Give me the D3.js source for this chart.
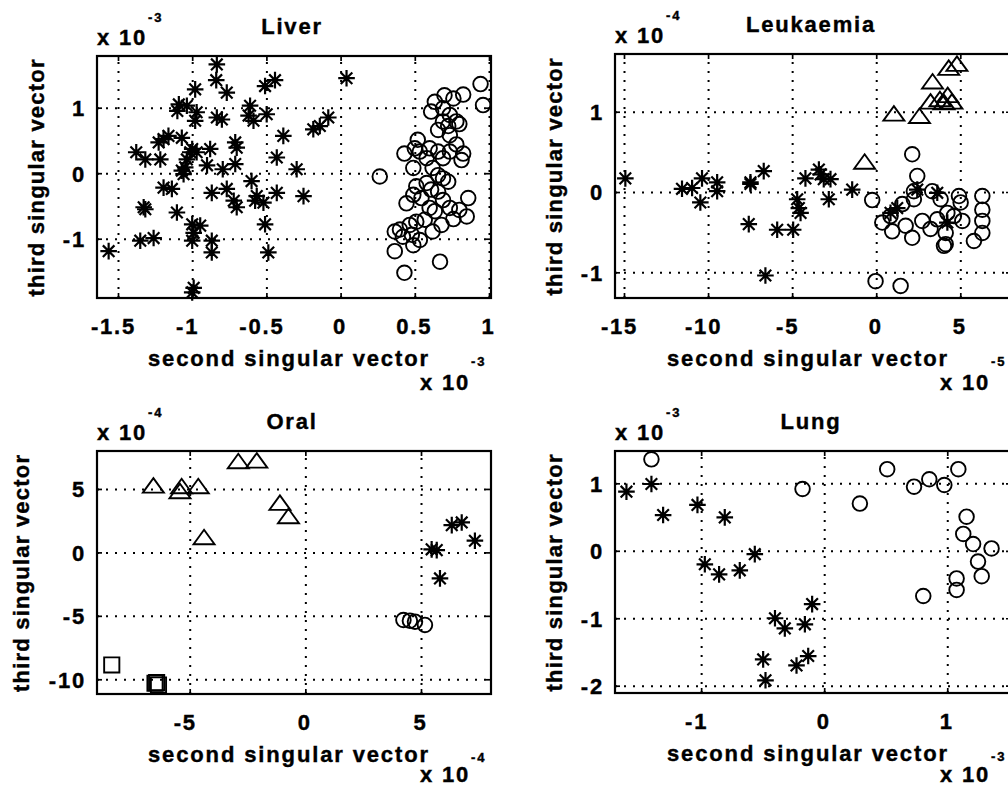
<!DOCTYPE html>
<html><head><meta charset="utf-8">
<script src="https://cdn.jsdelivr.net/npm/d3@7"></script>
<style>
html,body{margin:0;padding:0;overflow:hidden;background:#fff}
text{font-family:"Liberation Sans",Arial,Helvetica,sans-serif;font-weight:bold;fill:#000;stroke:#000;stroke-width:0.4px}
</style></head>
<body><svg id="chart" width="1008" height="789"></svg>
<script>
// ---------------- DATA (values in the units shown on the axes) ----------------
const panelTitles = ["Liver", "Leukaemia", "Oral", "Lung"];
const xAxisLabel = "second singular vector";
const yAxisLabel = "third singular vector";

const liverXTicks = [-1.5, -1, -0.5, 0, 0.5, 1];
const liverYTicks = [-1, 0, 1];
const leukXTicks = [-15, -10, -5, 0, 5, 10];
const leukYTicks = [-1, 0, 1];
const oralXTicks = [-5, 0, 5];
const oralYTicks = [-10, -5, 0, 5];
const lungXTicks = [-1, 0, 1];
const lungYTicks = [-2, -1, 0, 1];

// exponents [y-axis, x-axis]
const liverExp = ["-3", "-3"];
const leukExp = ["-4", "-5"];
const oralExp = ["-4", "-4"];
const lungExp = ["-3", "-3"];

const liverStars = [[-0.834,1.66],[-0.838,1.42],[-0.98,1.28],[-0.767,1.23],[-0.509,1.33],[-0.442,1.42],[0.04,1.45],
[-1.09,1.05],[-1.10,0.95],[-1.036,1.03],[-0.97,0.93],[-0.98,0.80],[-0.834,0.85],[-0.80,0.82],
[-0.61,1.03],[-0.62,0.88],[-0.587,0.80],[-0.498,0.90],[-0.083,0.85],[-0.14,0.72],[-0.184,0.67],[-0.386,0.57],
[-1.16,0.57],[-1.193,0.52],[-1.226,0.47],[-1.07,0.54],[-1.377,0.32],[-1.316,0.21],[-1.215,0.21],
[-1.013,0.32],[-0.97,0.32],[-1.036,0.21],[-0.879,0.37],[-0.71,0.47],[-0.70,0.39],[-0.71,0.14],
[-0.90,0.12],[-0.794,0.06],[-1.07,0.04],[-1.047,0.09],[-0.43,0.24],[-0.296,0.06],[-1.058,-0.015],[-1.0,0.37],
[-1.193,-0.22],[-1.137,-0.24],[-1.327,-0.52],[-1.316,-0.55],[-1.103,-0.60],[-0.868,-0.30],[-0.767,-0.24],
[-0.72,-0.42],[-0.70,-0.52],[-0.60,-0.12],[-0.565,-0.35],[-0.576,-0.42],[-0.52,-0.45],[-0.43,-0.30],[-0.25,-0.35],
[-0.509,-0.78],[-1.0,-0.78],[-0.99,-0.91],[-0.946,-0.80],[-1.0,-1.03],[-1.35,-1.03],[-1.26,-0.99],
[-0.868,-1.03],[-0.868,-1.21],[-1.563,-1.19],[-0.487,-1.21],[-0.99,-1.75],[-1.0,-1.82]];

const liverCircles = [[0.943,1.36],[0.96,1.04],[0.826,1.20],[0.70,1.19],[0.635,1.09],[0.61,0.94],[0.69,0.99],
[0.736,0.89],[0.78,0.79],[0.69,0.79],[0.725,0.72],[0.80,0.75],[0.657,0.66],[0.736,0.58],[0.52,0.51],
[0.50,0.38],[0.43,0.30],[0.534,0.33],[0.60,0.38],[0.657,0.33],[0.736,0.33],[0.826,0.30],[0.815,0.20],
[0.58,0.23],[0.69,0.23],[0.264,-0.05],[0.62,0.08],[0.657,-0.03],[0.69,-0.08],[0.725,-0.13],[0.58,-0.15],
[0.51,-0.20],[0.61,-0.25],[0.657,-0.28],[0.49,-0.33],[0.545,-0.38],[0.444,-0.46],[0.86,-0.38],[0.69,-0.41],
[0.736,-0.53],[0.80,-0.56],[0.85,-0.66],[0.635,-0.58],[0.567,-0.71],[0.51,-0.74],[0.466,-0.79],[0.40,-0.86],
[0.365,-0.89],[0.42,-0.97],[0.48,-0.94],[0.534,-1.02],[0.62,-0.89],[0.68,-0.79],[0.76,-0.70],[0.365,-1.19],
[0.67,-1.35],[0.43,-1.52],[0.49,-1.10],[0.60,-0.53],[0.49,0.08],[0.78,0.44],[0.76,1.14]];

const leukStars = [[-14.92,0.17],[-11.55,0.04],[-10.95,0.05],[-10.36,0.17],[-10.46,-0.13],[-9.46,0.12],[-9.46,0.01],
[-7.48,0.12],[-7.48,0.10],[-6.69,0.26],[-7.58,-0.40],[-5.89,-0.47],[-4.94,-0.47],[-6.59,-1.04],
[-4.70,-0.09],[-4.60,-0.20],[-4.50,-0.26],[-4.21,0.17],[-3.41,0.28],[-3.31,0.22],[-3.12,0.16],
[-2.72,0.16],[-2.82,-0.09],[-1.43,0.03],[1.25,-0.20],[0.85,-0.26],[3.63,-0.01],[4.23,-0.38],[2.44,0.03]];

const leukTriangles = [[-0.69,0.37],[1.05,0.97],[2.57,0.94],[3.35,1.37],[3.23,1.12],[4.31,1.54],[4.80,1.59],
[4.25,1.20],[4.50,1.12],[4.03,1.11],[3.79,1.15]];

const leukCircles = [[-0.24,-0.10],[2.14,0.47],[2.44,0.20],[2.24,0.01],[1.55,-0.15],[0.85,-0.30],[0.36,-0.38],
[0.95,-0.49],[1.75,-0.42],[2.14,-0.57],[2.74,-0.36],[3.33,0.01],[3.83,-0.09],[4.23,-0.26],[4.92,-0.05],
[5.02,-0.13],[5.12,-0.36],[4.13,-0.51],[4.03,-0.67],[4.13,-0.65],[6.31,-0.05],[6.31,-0.22],[6.31,-0.36],
[6.31,-0.51],[5.81,-0.61],[-0.04,-1.11],[1.45,-1.17],[3.23,-0.46],[3.63,-0.34],[4.62,-0.30],[2.24,-0.09]];

const oralTriangles = [[-6.57,5.22],[-5.35,5.17],[-5.42,4.78],[-4.63,5.17],[-2.90,7.14],[-2.10,7.19],
[-1.10,3.86],[-0.73,2.81],[-4.38,1.15]];
const oralStars = [[5.46,0.24],[5.68,0.18],[6.33,2.15],[6.76,2.36],[7.33,0.92],[5.82,-2.05]];
const oralCircles = [[4.24,-5.33],[4.52,-5.38],[4.74,-5.46],[5.17,-5.72]];
const oralSquares = [[-8.37,-8.87],[-6.50,-10.31],[-6.35,-10.45],[-6.43,-10.26]];

const lungStars = [[-1.607,0.876],[-1.404,0.99],[-1.309,0.53],[-1.03,0.68],[-0.808,0.495],[-0.97,-0.20],
[-0.854,-0.35],[-0.686,-0.29],[-0.564,-0.05],[-0.098,-0.79],[-0.40,-1.0],[-0.32,-1.15],[-0.157,-1.09],
[-0.13,-1.56],[-0.225,-1.70],[-0.496,-1.61],[-0.477,-1.92]];
const lungCircles = [[-1.404,1.356],[-0.176,0.916],[0.29,0.70],[0.512,1.21],[0.73,0.95],[0.854,1.06],
[0.976,0.975],[1.09,1.21],[1.157,0.505],[1.13,0.25],[1.21,0.10],[1.36,0.035],[1.25,-0.16],[1.28,-0.376],
[1.076,-0.41],[1.076,-0.58],[0.805,-0.67]];

// ---------------- LAYOUT ----------------
const panels = [
  {title: panelTitles[0], box: {l:97, r:491, t:56, b:298}, xDom: [-1.6415, 1.0135], yDom: [-1.905, 1.789],
   xTicks: liverXTicks, yTicks: liverYTicks, exp: liverExp, ylabOff: 53, xExpOff: 92,
   series: [{d: liverStars, m: "star"}, {d: liverCircles, m: "circle"}]},
  {title: panelTitles[1], box: {l:615, r:1011, t:54, b:298}, xDom: [-15.535, 8.015], yDom: [-1.32, 1.719],
   xTicks: leukXTicks, yTicks: leukYTicks, exp: leukExp, ylabOff: 53, xExpOff: 92,
   series: [{d: leukStars, m: "star"}, {d: leukCircles, m: "circle"}, {d: leukTriangles, m: "triangle"}]},
  {title: panelTitles[2], box: {l:97, r:491, t:451, b:694}, xDom: [-9.008, 8.026], yDom: [-11.16, 7.99],
   xTicks: oralXTicks, yTicks: oralYTicks, exp: oralExp, ylabOff: 68, xExpOff: 88,
   series: [{d: oralTriangles, m: "triangle"}, {d: oralStars, m: "star"}, {d: oralCircles, m: "circle"}, {d: oralSquares, m: "square"}]},
  {title: panelTitles[3], box: {l:615, r:1011, t:451, b:693}, xDom: [-1.70, 1.518], yDom: [-2.108, 1.479],
   xTicks: lungXTicks, yTicks: lungYTicks, exp: lungExp, ylabOff: 53, xExpOff: 89,
   series: [{d: lungStars, m: "star"}, {d: lungCircles, m: "circle"}]}
];

const markerPath = {
  star: "M-8.3,0H8.3M0,-8.3V8.3M-5.8,-5.8L5.8,5.8M-5.8,5.8L5.8,-5.8",
  triangle: "M0,-8L10.5,6.5L-10.5,6.5Z",
  square: "M-7.6,-7.6H7.6V7.6H-7.6Z"
};

const FS = 22, LS = "1.8px";
const svg = d3.select("#chart");
const fmt = d => String(d);

panels.forEach(p => {
  const {l, r, t, b} = p.box;
  const x = d3.scaleLinear().domain(p.xDom).range([l, r]);
  const y = d3.scaleLinear().domain(p.yDom).range([b, t]);
  const g = svg.append("g");
  const xIn = p.xTicks.filter(v => v >= p.xDom[0] && v <= p.xDom[1]);

  // grid lines + tick labels via axes
  const gx = g.append("g").attr("transform", `translate(0,${b})`)
    .call(d3.axisBottom(x).tickValues(xIn).tickFormat(fmt).tickSize(-(b - t)));
  gx.select(".domain").remove();
  gx.selectAll(".tick line").attr("stroke", "#000").attr("stroke-width", 2).attr("stroke-dasharray", "2,7");
  gx.selectAll(".tick text").attr("y", 36).attr("dy", 0).attr("dx", d => d < 0 ? -5 : -1)
    .attr("font-size", FS).style("letter-spacing", LS).attr("font-family", null).attr("fill", null);

  const gy = g.append("g").attr("transform", `translate(${l},0)`)
    .call(d3.axisLeft(y).tickValues(p.yTicks).tickFormat(fmt).tickSize(-(r - l)));
  gy.select(".domain").remove();
  gy.selectAll(".tick line").attr("stroke", "#000").attr("stroke-width", 2).attr("stroke-dasharray", "2,7");
  gy.selectAll(".tick text").attr("x", -11).attr("dy", "0.36em")
    .attr("font-size", FS).style("letter-spacing", LS).attr("font-family", null).attr("fill", null);

  // inward tick marks on all four sides
  const tk = 5;
  [[d3.axisBottom(x), b], [d3.axisTop(x), t]].forEach(([ax, yy]) => {
    const a = g.append("g").attr("transform", `translate(0,${yy})`)
      .call(ax.tickValues(xIn).tickSize(-tk).tickFormat(""));
    a.select(".domain").remove();
    a.selectAll(".tick line").attr("stroke", "#000").attr("stroke-width", 1.7);
  });
  [[d3.axisLeft(y), l], [d3.axisRight(y), r]].forEach(([ax, xx]) => {
    const a = g.append("g").attr("transform", `translate(${xx},0)`)
      .call(ax.tickValues(p.yTicks).tickSize(-tk).tickFormat(""));
    a.select(".domain").remove();
    a.selectAll(".tick line").attr("stroke", "#000").attr("stroke-width", 1.7);
  });

  // box
  g.append("rect").attr("x", l).attr("y", t).attr("width", r - l).attr("height", b - t)
    .attr("fill", "none").attr("stroke", "#000").attr("stroke-width", 2.2);

  // markers
  p.series.forEach(s => {
    const sel = g.append("g").selectAll(null).data(s.d);
    if (s.m === "circle") {
      sel.join("circle").attr("cx", d => x(d[0])).attr("cy", d => y(d[1])).attr("r", 7.3)
        .attr("fill", "none").attr("stroke", "#000").attr("stroke-width", 1.9);
    } else {
      sel.join("path").attr("d", markerPath[s.m])
        .attr("transform", d => `translate(${x(d[0])},${y(d[1])})`)
        .attr("fill", "none").attr("stroke", "#000")
        .attr("stroke-width", s.m === "star" ? 2.2 : 1.9);
    }
  });

  const cx = (l + r) / 2;
  // title
  g.append("text").attr("x", cx - 2).attr("y", t - 22).attr("text-anchor", "middle")
    .attr("font-size", FS).style("letter-spacing", LS).text(p.title);
  // x label
  g.append("text").attr("x", cx - 6).attr("y", b + 68).attr("text-anchor", "middle")
    .attr("font-size", FS).attr("textLength", 280).attr("lengthAdjust", "spacing").text(xAxisLabel);
  // y label
  g.append("text").attr("transform", `translate(${l - p.ylabOff},${(t + b) / 2 + 1}) rotate(-90)`)
    .attr("text-anchor", "middle").attr("font-size", FS)
    .attr("textLength", 237).attr("lengthAdjust", "spacing").text(yAxisLabel);
  // y-axis multiplier
  g.append("text").attr("x", l).attr("y", t - 11.5).attr("font-size", FS).style("letter-spacing", LS).text("x 10");
  g.append("text").attr("x", l + 51).attr("y", t - 34).attr("font-size", 13).style("letter-spacing", "2px").text(p.exp[0]);
  // x-axis multiplier
  g.append("text").attr("x", r - 21).attr("y", b + p.xExpOff).attr("text-anchor", "end").attr("font-size", FS).style("letter-spacing", LS).text("x 10");
  g.append("text").attr("x", r - 20).attr("y", b + 68).attr("font-size", 13).style("letter-spacing", "2px").text(p.exp[1]);
});
</script>
</body></html>
